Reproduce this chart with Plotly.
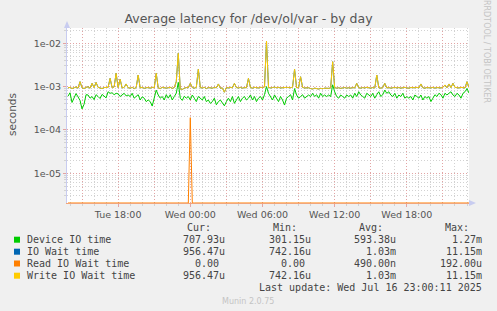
import pandas as pd
import plotly.graph_objects as go

# ---------------- data (microseconds, 10-minute samples) ----------------
START = "2025-07-15 13:50"
STEP = "10min"

device_io_us = [
    600, 720, 430, 560, 690, 580, 480, 305, 390, 650,
    640, 540, 590, 500, 650, 590, 530, 660, 600, 550,
    760, 700, 720, 650, 700, 680, 590, 640, 700, 610,
    640, 590, 700, 540, 590, 650, 490, 580, 540, 450,
    490, 450, 355, 600, 830, 640, 540, 590, 490, 650,
    540, 650, 490, 590, 700, 1250, 540, 480, 600, 540,
    590, 490, 640, 540, 450, 590, 540, 490, 590, 450,
    490, 410, 450, 540, 380, 450, 490, 410, 360, 450,
    540, 450, 590, 410, 490, 590, 450, 540, 590, 490,
    540, 640, 490, 590, 450, 540, 590, 490, 650, 1000,
    700, 590, 490, 640, 540, 450, 590, 490, 375, 540,
    590, 650, 490, 900, 640, 540, 590, 650, 540, 590,
    640, 590, 700, 590, 650, 540, 700, 590, 640, 590,
    640, 590, 1100, 760, 590, 540, 640, 590, 540, 640,
    590, 640, 540, 700, 590, 760, 640, 590, 540, 700,
    650, 590, 700, 540, 650, 760, 590, 650, 830, 700,
    760, 640, 590, 700, 540, 640, 590, 700, 540, 590,
    540, 590, 490, 640, 590, 540, 640, 490, 590, 540,
    590, 450, 540, 650, 590, 700, 650, 540, 700, 640,
    700, 760, 640, 590, 700, 640, 540, 700, 760, 900,
    708,
]

write_wait_us = [
    930, 960, 900, 950, 980, 920, 1300, 940, 900, 960,
    990, 920, 1190, 950, 1250, 960, 930, 900, 950, 940,
    960, 1550, 940, 980, 2030, 950, 1480, 930, 960, 1150,
    940, 920, 960, 900, 950, 1850, 930, 960, 910, 940,
    950, 920, 960, 940, 2030, 930, 900, 960, 940, 920,
    940, 960, 910, 950, 1300, 5870, 880, 860, 920, 950,
    940, 1190, 950, 920, 960, 2510, 940, 930, 960, 900,
    950, 940, 920, 960, 940, 1150, 920, 930, 742, 950,
    930, 960, 940, 1190, 950, 930, 960, 920, 950, 940,
    1550, 950, 920, 960, 940, 930, 960, 950, 980, 11150,
    960, 930, 950, 970, 940, 960, 930, 950, 940, 960,
    950, 940, 970, 2510, 950, 940, 1690, 960, 930, 950,
    940, 900, 880, 920, 900, 880, 910, 890, 920, 900,
    910, 930, 3760, 950, 920, 940, 910, 930, 950, 920,
    940, 920, 950, 930, 1190, 940, 920, 950, 930, 960,
    940, 920, 950, 930, 1850, 940, 920, 950, 1190, 930,
    950, 920, 940, 960, 930, 950, 920, 940, 960, 930,
    920, 950, 930, 940, 960, 930, 1150, 940, 920, 950,
    940, 930, 960, 920, 950, 940, 930, 960, 1090, 940,
    1150, 950, 1190, 960, 940, 930, 960, 950, 930, 1300,
    956,
]

# IO Wait equals Write IO Wait in this period (hidden beneath it)
io_wait_us = list(write_wait_us)

read_wait_us = [0.0] * 61 + [192.0] + [0.0] * 139

series_names = ["Device IO time", "IO Wait time", "Read IO Wait time", "Write IO Wait time"]
series_colors = ["#00CC00", "#0066B3", "#FF8000", "#FFCC00"]
stat_cur = ["707.93u", "956.47u", "0.00", "956.47u"]
stat_min = ["301.15u", "742.16u", "0.00", "742.16u"]
stat_avg = ["593.38u", "1.03m", "490.00n", "1.03m"]
stat_max = ["1.27m", "11.15m", "192.00u", "11.15m"]

y_tick_vals = [1e-5, 1e-4, 1e-3, 1e-2]
y_tick_text = ["1e-05", "1e-04", "1e-03", "1e-02"]
x_major = pd.date_range("2025-07-15 15:00", "2025-07-16 21:00", freq="3h")
x_minor = pd.date_range("2025-07-15 14:00", "2025-07-16 23:00", freq="1h")
x_label_map = {"2025-07-15 18:00": "Tue 18:00", "2025-07-16 00:00": "Wed 00:00",
               "2025-07-16 06:00": "Wed 06:00", "2025-07-16 12:00": "Wed 12:00",
               "2025-07-16 18:00": "Wed 18:00"}

# ---------------- layout geometry ----------------
W, H = 497, 311
L, R, T, B = 67, 469, 28, 203
Y_RANGE = [-5.688, -1.647]
X_RANGE = ["2025-07-15 13:45", "2025-07-16 23:10"]

times = pd.date_range(START, periods=len(device_io_us), freq=STEP)
floor_val = 10 ** Y_RANGE[0]

def to_s(lst):
    return [v * 1e-6 for v in lst]

def clamp(lst):
    return [max(v, floor_val) for v in lst]

fig = go.Figure()
for name, vals, col in zip(series_names,
                           [to_s(device_io_us), to_s(io_wait_us), clamp(to_s(read_wait_us)), to_s(write_wait_us)],
                           series_colors):
    fig.add_trace(go.Scatter(x=times, y=vals, mode="lines", name=name,
                             line=dict(color=col, width=1), showlegend=False,
                             hoverinfo="skip"))

def px(x):
    return (x - L) / (R - L)

def py(y):
    return (B - y) / (B - T)

TXT = "#444444"
MONO = "DejaVu Sans Mono"
ann = []
# header
for txt, xr in zip(["Cur:", "Min:", "Avg:", "Max:"], [212, 298, 384, 470]):
    ann.append(dict(x=px(xr), y=py(227.5), text=txt, xanchor="right"))
rows_y = [239.7, 251.7, 263.5, 275.7]
shapes = []
for i, name in enumerate(series_names):
    yy = rows_y[i]
    ann.append(dict(x=px(26), y=py(yy), text=name, xanchor="left"))
    for vals, edge in zip([stat_cur, stat_min, stat_avg, stat_max], [226, 312, 397, 483]):
        t = vals[i]
        e = edge if t[-1].isalpha() else edge - 6
        ann.append(dict(x=px(e), y=py(yy), text=t, xanchor="right"))
    shapes.append(dict(type="rect", xref="paper", yref="paper",
                       x0=px(14), x1=px(20), y0=py(yy + 3), y1=py(yy - 3),
                       fillcolor=series_colors[i], line=dict(width=0)))
ann.append(dict(x=px(483), y=py(287.8), text="Last update: Wed Jul 16 23:00:11 2025", xanchor="right"))
for a in ann:
    a.update(xref="paper", yref="paper", yanchor="middle", showarrow=False, borderpad=0,
             font=dict(family=MONO, size=10, color=TXT))

ann.append(dict(x=px(248), y=py(301), xref="paper", yref="paper", text="Munin 2.0.75",
                xanchor="center", yanchor="middle", borderpad=0,
                showarrow=False, font=dict(family="DejaVu Sans", size=8, color="#C4C4C4")))
ann.append(dict(x=px(487), y=py(52), xref="paper", yref="paper", text="RRDTOOL / TOBI OETIKER",
                xanchor="center", yanchor="middle", borderpad=0,
                textangle=90, showarrow=False, font=dict(family="DejaVu Sans", size=8, color="#C4C4C4")))
ann.append(dict(x=px(12), y=py(115), xref="paper", yref="paper", text="seconds",
                xanchor="center", yanchor="middle", borderpad=0,
                textangle=-90, showarrow=False, font=dict(family="DejaVu Sans", size=10.5, color="#555555")))

# axis arrows
AX = "#C8CCF0"
shapes.append(dict(type="path", xref="paper", yref="paper",
                   path=f"M {px(64)} {py(28)} L {px(70)} {py(28)} L {px(67)} {py(21)} Z",
                   fillcolor=AX, line=dict(width=0)))
shapes.append(dict(type="path", xref="paper", yref="paper",
                   path=f"M {px(469)} {py(200)} L {px(469)} {py(206)} L {px(476)} {py(203)} Z",
                   fillcolor=AX, line=dict(width=0)))

MAJ = "#E2A4A4"
MIN = "#D2D2D2"
DASH = "1px,2px"

y_minor = [m * 10 ** e for e in range(-6, -1) for m in range(2, 10)]

fig.update_layout(
    width=W, height=H,
    margin=dict(l=L, r=W - R, t=T, b=H - B),
    paper_bgcolor="#F0F0F0", plot_bgcolor="#FFFFFF",
    title=dict(text="Average latency for /dev/ol/var - by day", x=0.5, xref="container",
               y=1 - 19 / H, yref="container", xanchor="center", yanchor="middle",
               font=dict(family="DejaVu Sans", size=12.5, color="#555555")),
    annotations=ann, shapes=shapes,
    xaxis=dict(type="date", range=X_RANGE, tickvals=list(x_major),
               ticktext=[x_label_map.get(t.strftime("%Y-%m-%d %H:%M"), "") for t in x_major],
               showgrid=True, gridcolor=MAJ, griddash=DASH, gridwidth=1,
               ticks="outside", ticklen=3, tickcolor=MAJ,
               minor=dict(tickvals=list(x_minor), showgrid=True,
                          gridcolor=MIN, griddash=DASH, ticks="outside", ticklen=2, tickcolor=MIN),
               showline=True, linecolor="#F2A57A", linewidth=1, zeroline=False,
               tickfont=dict(family="DejaVu Sans", size=9.5, color="#555555"), fixedrange=True),
    yaxis=dict(type="log", range=Y_RANGE, tickvals=y_tick_vals, ticktext=y_tick_text,
               showgrid=True, gridcolor=MAJ, griddash=DASH, gridwidth=1,
               ticks="outside", ticklen=3, tickcolor=MAJ,
               minor=dict(tickvals=y_minor, showgrid=True, gridcolor=MIN, griddash=DASH,
                          ticks="outside", ticklen=2, tickcolor=MIN),
               showline=True, linecolor=AX, linewidth=1, zeroline=False,
               tickfont=dict(family="DejaVu Sans", size=9.5, color="#555555"), fixedrange=True),
    showlegend=False,
)

fig.write_html("out.html")
